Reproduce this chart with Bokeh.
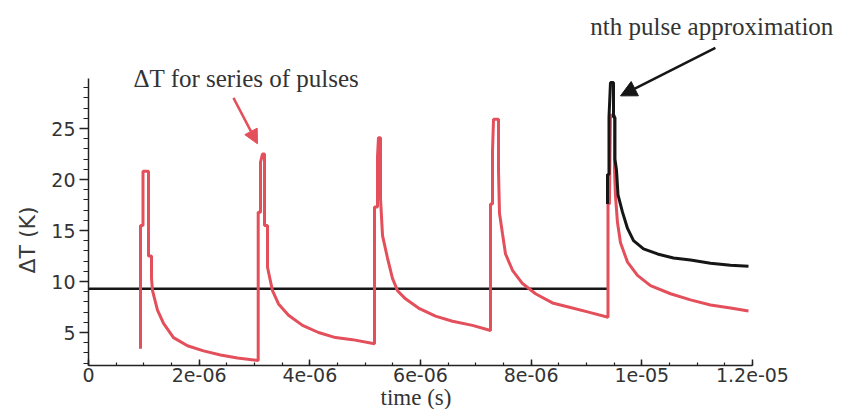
from bokeh.plotting import figure
from bokeh.models import (Range1d, FixedTicker, CustomJSTickFormatter, Label,
                          Arrow, NormalHead, Title)
from bokeh.embed import file_html
from bokeh.resources import INLINE

# ---- data (time in microseconds, dT in K) ----
series_t_us = [0.94, 0.94, 0.985, 0.985, 1.084, 1.084, 1.139, 1.139, 1.157, 1.247, 1.356, 1.536,
               1.789, 2.078, 2.386, 2.693, 3.067,
               3.067, 3.109, 3.109, 3.145, 3.181, 3.181, 3.235, 3.235, 3.325, 3.434, 3.615,
               3.868, 4.157, 4.464, 4.771, 5.169,
               5.169, 5.223, 5.223, 5.241, 5.277, 5.277, 5.314, 5.404, 5.494, 5.585, 5.729,
               5.964, 6.271, 6.579, 6.94, 7.266,
               7.266, 7.302, 7.302, 7.32, 7.41, 7.41, 7.428, 7.482, 7.537, 7.663, 7.844,
               8.079, 8.386, 8.675, 9.037, 9.389,
               9.389, 9.415, 9.434, 9.506, 9.506, 9.524, 9.56, 9.615, 9.742, 9.922, 10.157,
               10.519, 10.88, 11.242, 11.603, 11.928]
series_dT = [3.4, 15.5, 15.5, 20.8, 20.8, 12.5, 12.5, 10.3, 9.1, 7.2, 5.9, 4.5,
             3.7, 3.2, 2.8, 2.5, 2.25,
             16.8, 16.8, 21.7, 22.5, 22.5, 15.5, 15.5, 11.4, 9.1, 7.8, 6.7,
             5.7, 5.0, 4.5, 4.3, 3.9,
             17.3, 17.3, 22.2, 24.1, 24.1, 18.2, 14.5, 12.3, 10.3, 9.1, 8.3,
             7.4, 6.6, 6.1, 5.7, 5.2,
             17.6, 17.6, 22.8, 25.9, 25.9, 20.9, 16.7, 14.7, 12.7, 11.1, 9.8,
             8.8, 7.9, 7.5, 7.0, 6.5,
             17.6, 17.6, 26.3, 26.3, 21.0, 18.4, 15.8, 13.8, 11.9, 10.6, 9.6,
             8.8, 8.2, 7.7, 7.4, 7.1]

nth_t_us = [9.38, 9.38, 9.407, 9.407, 9.434, 9.488, 9.488, 9.515, 9.515, 9.543, 9.57,
            9.651, 9.742, 9.85, 10.031, 10.284, 10.573, 10.88, 11.242, 11.603, 11.928]
nth_dT = [17.6, 20.5, 20.5, 26.1, 29.5, 29.5, 26.1, 26.1, 22.0, 20.9, 18.5,
          16.8, 15.2, 14.0, 13.2, 12.7, 12.3, 12.1, 11.8, 11.6, 11.5]

level_t_us = [0.0, 9.38]
level_dT = [9.3, 9.3]

x_ticks_s = [0, 2e-6, 4e-6, 6e-6, 8e-6, 1e-5, 1.2e-5]
y_ticks = [5, 10, 15, 20, 25]

to_s = lambda lst: [v * 1e-6 for v in lst]

RED = "#e34f5b"
BLACK = "#161616"
TXT = "#333333"

# frame spans the whole canvas right/top so annotations are not clipped;
# the axes are bounded to the data extent like the original
p = figure(width=852, height=409, output_backend="svg", toolbar_location=None,
           x_range=Range1d(0, 13.808e-6), y_range=Range1d(1.765, 37.55),
           min_border_left=88, min_border_right=0, min_border_top=0,
           min_border_bottom=44)
p.outline_line_color = None
p.xgrid.visible = False
p.ygrid.visible = False
p.background_fill_color = "white"
p.border_fill_color = "white"

p.line(to_s(level_t_us), level_dT, color=BLACK, line_width=2.5)
p.line(to_s(series_t_us), series_dT, color=RED, line_width=3)
p.line(to_s(nth_t_us), nth_dT, color=BLACK, line_width=3)

# axes
xa = p.xaxis[0]
xa.bounds = (0, 1.2e-5)
xa.ticker = FixedTicker(ticks=x_ticks_s,
                        minor_ticks=[i * 5e-7 for i in range(0, 25)])
xa.formatter = CustomJSTickFormatter(code="""
if (tick === 0) return "0";
const e = Math.floor(Math.log10(Math.abs(tick)) + 1e-9);
const m = Math.round(tick / Math.pow(10, e) * 100) / 100;
const ae = Math.abs(e);
return m + "e" + (e < 0 ? "-" : "+") + (ae < 10 ? "0" : "") + ae;
""")
xa.major_tick_in = 6
xa.major_tick_out = 0
xa.minor_tick_in = 3
xa.minor_tick_out = 0
xa.major_label_standoff = 2

ya = p.yaxis[0]
ya.bounds = (1.765, 29.9)
ya.ticker = FixedTicker(ticks=y_ticks, minor_ticks=list(range(2, 30)))
ya.major_tick_in = 0
ya.major_tick_out = 9
ya.minor_tick_in = 0
ya.minor_tick_out = 5
ya.major_label_standoff = 4

for ax in (xa, ya):
    ax.axis_line_color = "#222222"
    ax.axis_line_width = 1.5
    ax.major_tick_line_color = "#222222"
    ax.major_tick_line_width = 1.5
    ax.minor_tick_line_color = "#222222"
    ax.minor_tick_line_width = 1.2
    ax.major_label_text_font = "DejaVu Sans"
    ax.major_label_text_font_size = "19px"
    ax.major_label_text_color = TXT

# axis titles placed as side titles so they can be offset along the axis
p.add_layout(Title(text="ΔT (K)", align="left", offset=92, standoff=18,
                   text_font="DejaVu Sans", text_font_size="22px",
                   text_font_style="normal", text_color="#3a3a3a"), "left")
p.add_layout(Title(text="time (s)", align="left", offset=292, standoff=-4,
                   text_font="Liberation Serif", text_font_size="23px",
                   text_font_style="normal", text_color=TXT), "below")

# annotations
p.add_layout(Label(x=0.813e-6, y=29.9, text="ΔT for series of pulses",
                   text_font="Liberation Serif", text_font_size="25px",
                   text_color=TXT, text_baseline="alphabetic"))
p.add_layout(Label(x=9.07e-6, y=35.0, text="nth pulse approximation",
                   text_font="Liberation Serif", text_font_size="25px",
                   text_color=TXT, text_baseline="alphabetic"))
p.add_layout(Arrow(x_start=2.62e-6, y_start=28.0, x_end=3.054e-6, y_end=23.5,
                   line_color=RED, line_width=2.5,
                   end=NormalHead(size=14, fill_color=RED, line_color=RED)))
p.add_layout(Arrow(x_start=11.33e-6, y_start=32.9, x_end=9.615e-6, y_end=28.2,
                   line_color=BLACK, line_width=2.5,
                   end=NormalHead(size=16, fill_color=BLACK, line_color=BLACK)))

open("out.html", "w").write(file_html(p, INLINE))
